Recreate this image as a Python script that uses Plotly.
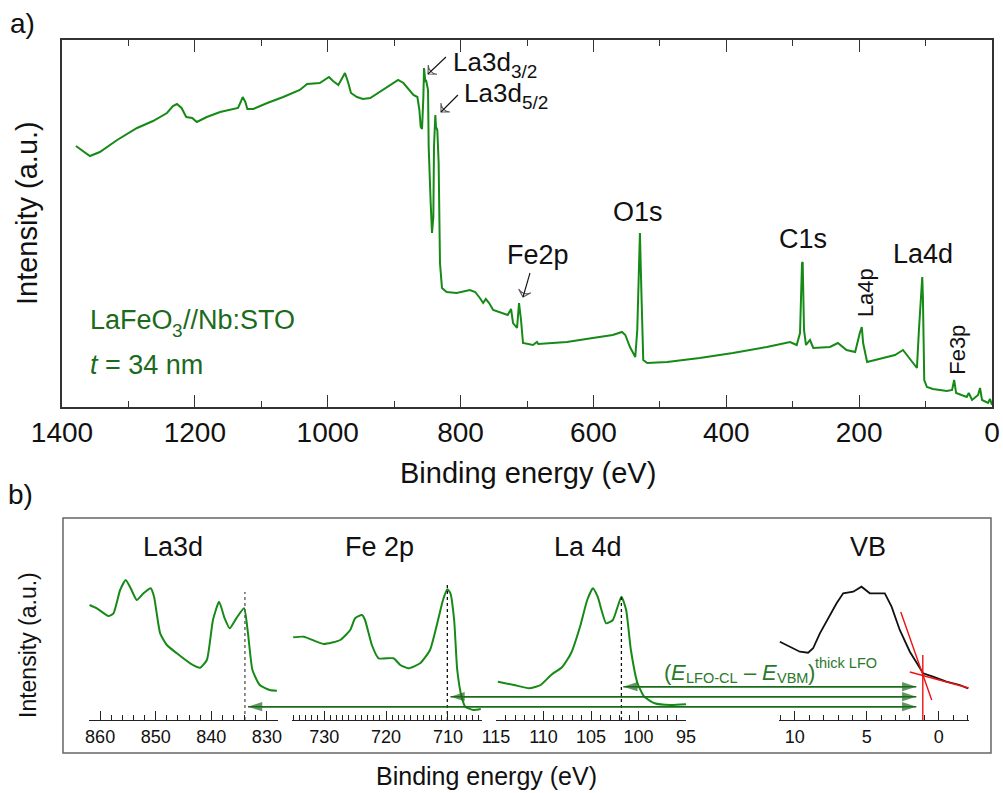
import plotly.graph_objects as go

W, H = 1003, 793
FONT = "Liberation Sans, Arial, sans-serif"
GREEN = "#168a16"
DKGREEN = "#1c6a1c"
TXT = "#111111"

# ---------------- data: survey spectrum (binding energy eV, intensity a.u.) -----------
survey_be = [1379, 1358, 1343, 1317, 1287, 1263, 1242, 1233, 1227, 1220, 1213, 1204, 1197, 1182,
             1162, 1142, 1135, 1131, 1128, 1124, 1121, 1112, 1091, 1067, 1042, 1031, 1012, 998,
             992, 984, 978, 974, 969, 965, 956, 947, 936, 917, 904, 894, 886, 879, 871, 865,
             862, 860, 858, 856, 855, 853, 852, 849, 848, 845, 843, 841, 840, 838, 837, 835,
             833, 831, 828, 821, 806, 786, 778, 771, 766, 762, 757, 751, 741, 729, 724, 721,
             715, 712, 709, 706, 691, 685, 683, 640, 601, 571, 557, 552, 545, 537, 534, 532,
             530, 528, 525, 519, 489, 440, 390, 339, 304, 294, 289, 286, 285, 283, 280, 274,
             269, 244, 232, 219, 206, 199, 196, 194, 188, 164, 146, 134, 123, 113, 110, 105,
             104, 102, 98, 89, 68, 60, 57, 54, 38, 35, 30, 21, 18, 15, 6, 3, 0]
survey_int = [261, 251, 255, 267, 279, 286, 294, 301, 303, 299, 290, 289, 285, 290,
              295, 298, 299, 305, 310, 305, 298, 298, 304, 310, 317, 323, 324, 330,
              326, 322, 329, 334, 324, 314, 310, 308, 309, 317, 322, 327, 324, 318, 312, 310,
              297, 280, 278, 310, 339, 325, 327, 317, 260, 204, 174, 190, 260, 292, 280, 277,
              244, 144, 119, 115, 114, 117, 115, 109, 104, 108, 104, 97, 95, 92, 98, 84,
              79, 104, 87, 64, 62, 65, 63, 65, 69, 72, 75, 72, 60, 50, 77, 137,
              174, 120, 47, 44, 45, 49, 54, 60, 65, 62, 74, 144, 145, 77, 62, 67,
              59, 60, 64, 57, 55, 74, 80, 64, 45, 49, 52, 57, 47, 39, 77, 130,
              110, 27, 20, 18, 16, 17, 27, 14, 10, 14, 7, 12, 19, 7, 4, 8, 2]

# peak-marker arrows on the survey: (head energy, head intensity, tail energy, tail intensity)
survey_arrows = [(849, 333, 822, 350), (829.5, 295, 804, 312), (706, 110, 695.5, 134)]

# ---------------- data: detail spectra ----------------
la3d_be = [861.9, 860.6, 858.5, 857.6, 856.4, 855.4, 854.5, 853.4, 852.2, 850.9, 850.3, 849.2,
           848.0, 846.2, 843.8, 842.0, 840.8, 839.7, 838.6, 837.6, 836.7, 835.5, 834.1, 833.4,
           832.6, 831.3, 829.5, 828.2]
la3d_int = [112, 108.7, 101, 103.7, 127, 137, 128.7, 117, 123.7, 128.7, 120.3, 83.7,
            72, 63.7, 53.7, 49.3, 57, 97, 115.3, 98.7, 88.7, 98.7, 108.7, 83.7,
            47, 32, 27, 26.3]

fe2p_be = [735.0, 733.3, 730.1, 727.4, 725.8, 725.0, 723.9, 723.4, 722.3, 721.2, 718.8, 717.7,
           716.4, 714.5, 712.9, 711.6, 710.8, 710.1, 709.6, 709.0, 708.5, 707.8, 707.2, 705.9, 704.7]
fe2p_int = [79.7, 80.3, 73, 77, 87, 98.7, 102, 97, 72, 58.7, 58.7, 52,
            48.7, 53.7, 67, 97, 117, 127.7, 123.7, 97, 47, 20.3, 10.3, 7, 8]

la4d_be = [114.8, 113.1, 111.5, 110.3, 109.2, 108.0, 107.1, 106.1, 105.4, 104.8, 104.3, 103.4,
           102.7, 101.8, 101.3, 100.8, 100.1, 99.4, 98.3, 96.6, 95.0]
la4d_int = [35.3, 32, 28.7, 32, 42, 50.3, 63.7, 92, 117, 128.7, 120.3, 93.7,
            97, 120.3, 107, 67, 33.7, 20.3, 13.7, 12, 12.7]

vb_be = [11.04, 10.35, 9.65, 9.08, 8.73, 8.26, 7.68, 7.10, 6.64, 5.94, 5.37, 4.79, 3.75,
         3.28, 2.71, 2.01, 1.44, 1.09, 0.40, -0.53, -1.46, -2.03]
vb_int = [75.3, 70.3, 65.3, 64.3, 68.7, 83.7, 98.7, 113.7, 123.7, 125.3, 130.3, 123.7, 123.7,
          110.3, 87, 65.3, 52, 43.7, 40.3, 35.3, 32, 28.7]

# VBM extrapolation lines
tangent_be = [2.64, 0.49]
tangent_int = [105, 17]
base_be = [2.01, -2.08]
base_int = [45, 29]
vbm_be = 1.11
vbm_top = 62

# reference core-level positions (dashed) and their heights
cl_pos = {"la3d": 833.95, "fe2p": 710.1, "la4d": 101.8}
cl_top = {"la3d": 125, "fe2p": 133, "la4d": 122}
arrow_left = {"la3d": 833.4, "fe2p": 709.6, "la4d": 101.6}
arrow_level = {"la3d": 10.3, "fe2p": 20.3, "la4d": 30.3}
arrow_right = 1.56

# ---------------- axes geometry ----------------
def dom_x(a, b):
    return [a / W, b / W]

def dom_y(top, bottom):
    return [1 - bottom / H, 1 - top / H]

top_xdom = dom_x(62, 992)
top_ydom = dom_y(40, 407)
bot_ydom = dom_y(567, 720)
bot_yrng = [-3, 150]

sub = {
    "la3d": dict(ax=2, dom=dom_x(89, 278), rng=[862, 828], dtick=10, minor=2),
    "fe2p": dict(ax=3, dom=dom_x(292, 482), rng=[735.2, 704.5], dtick=10, minor=1),
    "la4d": dict(ax=4, dom=dom_x(496, 686), rng=[115, 95], dtick=5, minor=1),
    "vb": dict(ax=5, dom=dom_x(779, 969), rng=[11.1, -2.1], dtick=5, minor=1),
}

def to_frac(dom, rng, v):
    return dom[0] + (v - rng[0]) / (rng[1] - rng[0]) * (dom[1] - dom[0])

fig = go.Figure()

fig.add_trace(go.Scatter(x=survey_be, y=survey_int, mode="lines",
                         line=dict(color=GREEN, width=2), xaxis="x", yaxis="y",
                         hoverinfo="skip", showlegend=False))

for hx, hy, tx, ty in survey_arrows:
    fig.add_trace(go.Scatter(x=[tx, hx], y=[ty, hy], mode="lines+markers",
                             line=dict(color="#111", width=1.1),
                             marker=dict(symbol=["circle", "arrow-wide-open"], size=[0, 9],
                                         angleref="previous", color="#111",
                                         line=dict(color="#111", width=1.1)),
                             xaxis="x", yaxis="y", showlegend=False, hoverinfo="skip"))

for key, xs, ys in [("la3d", la3d_be, la3d_int), ("fe2p", fe2p_be, fe2p_int),
                    ("la4d", la4d_be, la4d_int)]:
    n = sub[key]["ax"]
    fig.add_trace(go.Scatter(x=xs, y=ys, mode="lines",
                             line=dict(color=GREEN, width=2, shape="spline", smoothing=0.5),
                             xaxis=f"x{n}", yaxis=f"y{n}", showlegend=False))
    fig.add_trace(go.Scatter(x=[cl_pos[key], cl_pos[key]], y=[bot_yrng[0], cl_top[key]],
                             mode="lines",
                             line=dict(color="#555555" if key == "la3d" else "#111111",
                                       width=1.3, dash="dot"),
                             xaxis=f"x{n}", yaxis=f"y{n}", showlegend=False))

fig.add_trace(go.Scatter(x=vb_be, y=vb_int, mode="lines", line=dict(color="#111111", width=1.8),
                         xaxis="x5", yaxis="y5", showlegend=False))
for xs, ys in [(tangent_be, tangent_int), (base_be, base_int),
               ([vbm_be, vbm_be], [bot_yrng[0], vbm_top])]:
    fig.add_trace(go.Scatter(x=xs, y=ys, mode="lines", line=dict(color="#ee1111", width=1.4),
                             xaxis="x5", yaxis="y5", showlegend=False))

# energy-difference double arrows, drawn on a panel-wide overlay axis (x6 in figure fraction)
xr = to_frac(sub["vb"]["dom"], sub["vb"]["rng"], arrow_right)
for key in ["la3d", "fe2p", "la4d"]:
    xl = to_frac(sub[key]["dom"], sub[key]["rng"], arrow_left[key])
    lvl = arrow_level[key]
    for xa, xb in [(xl, xr), (xr, xl)]:
        fig.add_trace(go.Scatter(x=[xa, xb], y=[lvl, lvl], mode="lines+markers",
                                 line=dict(color=DKGREEN, width=1.5),
                                 marker=dict(symbol=["circle", "arrow"], size=[0, 15],
                                             angleref="previous", color=DKGREEN,
                                             line=dict(width=0)),
                                 xaxis="x6", yaxis="y6", showlegend=False, hoverinfo="skip"))

layout = dict(
    width=W, height=H, margin=dict(l=0, r=0, t=0, b=0, autoexpand=False),
    paper_bgcolor="white", plot_bgcolor="rgba(0,0,0,0)",
    font=dict(family=FONT, color=TXT), showlegend=False,
    xaxis=dict(domain=top_xdom, range=[1400, 0], anchor="y", showline=True, linecolor="#333",
               linewidth=1.5, mirror="ticks", ticks="inside", ticklen=12, tickwidth=1.2,
               tickcolor="#333", dtick=200, tick0=0, automargin=False,
               minor=dict(dtick=100, ticklen=6, ticks="inside", tickcolor="#333", tickwidth=1.2,
                          showgrid=False),
               tickfont=dict(size=28, color=TXT, family=FONT), showgrid=False, zeroline=False),
    yaxis=dict(domain=top_ydom, range=[0, 367], anchor="x", showline=True, mirror=True,
               linecolor="#333", linewidth=1.5, showticklabels=False, ticks="",
               showgrid=False, zeroline=False, automargin=False),
    xaxis6=dict(domain=[0, 1], range=[0, 1], anchor="y6", visible=False, automargin=False),
    yaxis6=dict(domain=bot_ydom, range=bot_yrng, anchor="x6", visible=False, automargin=False),
)
for key, s in sub.items():
    n = s["ax"]
    layout[f"xaxis{n}"] = dict(domain=s["dom"], range=s["rng"], anchor=f"y{n}", showline=True,
                               linecolor="#222", linewidth=1.3, ticks="inside", ticklen=9,
                               tickwidth=1.2, tickcolor="#222", dtick=s["dtick"], tick0=0,
                               automargin=False,
                               minor=dict(dtick=s["minor"], ticklen=5, ticks="inside",
                                          tickcolor="#222", tickwidth=1.1, showgrid=False),
                               tickfont=dict(size=18, color=TXT, family=FONT),
                               showgrid=False, zeroline=False)
    layout[f"yaxis{n}"] = dict(domain=bot_ydom, range=bot_yrng, anchor=f"x{n}", visible=False,
                               automargin=False)
fig.update_layout(**layout)

# bottom panel box
fig.add_shape(type="rect", xref="paper", yref="paper", x0=63 / W, x1=991 / W,
              y0=1 - 753 / H, y1=1 - 518 / H, line=dict(color="#666", width=1.5),
              fillcolor="rgba(0,0,0,0)", layer="below")

ann = []

def txt(x, y, text, size, xref="paper", yref="paper", xanchor="center", yanchor="middle",
        color=TXT, angle=0, xshift=0, yshift=0):
    ann.append(dict(x=x, y=y, xref=xref, yref=yref, text=text, showarrow=False,
                    xanchor=xanchor, yanchor=yanchor, textangle=angle,
                    xshift=xshift, yshift=yshift,
                    font=dict(size=size, color=color, family=FONT)))

# Arial / Liberation Sans advance widths (per 1000 em) for composing sub/superscripts
ADV = {" ": 278, "(": 333, ")": 333, "E": 667, "L": 556, "F": 611, "O": 778, "-": 333,
       "C": 722, "V": 667, "B": 667, "M": 833, "t": 278, "h": 556, "i": 222, "c": 500,
       "k": 500, "\u2013": 556, "a": 556, "d": 556, "3": 556, "/": 278, "2": 556, "5": 556,
       "e": 556, "N": 722, "b": 556, ":": 278, "S": 667, "T": 611}

def width(s, size):
    return sum(ADV.get(ch, 556) for ch in s) * size / 1000.0

def compose(x, y, pieces, xref="paper", yref="paper", color=TXT):
    off = 0.0
    for text, size, dy in pieces:
        shown = text.strip()
        lead = width(text[:len(text) - len(text.lstrip())], size)
        txt(x, y, shown, size, xref, yref, xanchor="left", color=color,
            xshift=off + lead, yshift=dy)
        off += width(text.replace("<i>", "").replace("</i>", ""), size)

def pp(xp, yp):
    return xp / W, 1 - yp / H

# panel labels / titles
txt(*pp(22, 23), "a)", 28)
txt(*pp(20, 495), "b)", 28)
txt(*pp(528, 473), "Binding energy (eV)", 29)
txt(*pp(27, 213), "Intensity (a.u.)", 29, angle=-90)
txt(*pp(486, 776), "Binding energy (eV)", 25)
txt(*pp(28, 645), "Intensity (a.u.)", 23, angle=-90)

# survey peak labels (data coords)
compose(814, 345, [("La3d", 26, 0), ("3/2", 19, -10)], "x", "y")
compose(798, 314, [("La3d", 26, 0), ("5/2", 19, -10)], "x", "y")
txt(683, 152, "Fe2p", 27, "x", "y")
txt(533, 195, "O1s", 27, "x", "y")
txt(284, 168, "C1s", 27, "x", "y")
txt(191, 114, "La4p", 22, "x", "y", angle=-90)
txt(104, 153, "La4d", 27, "x", "y")
txt(53, 57, "Fe3p", 22, "x", "y", angle=-90)
compose(1361, 87, [("LaFeO", 27, 0), ("3", 19, -10), ("//Nb:STO", 27, 0)], "x", "y",
        color=DKGREEN)
compose(1361, 42, [("<i>t</i>", 27, 0), (" = 34 nm", 27, 0)], "x", "y", color=DKGREEN)

# bottom panel titles
txt(*pp(173, 547), "La3d", 27)
txt(*pp(379, 547), "Fe 2p", 27)
txt(*pp(588, 547), "La 4d", 27)
txt(*pp(868, 547), "VB", 27)

compose(*pp(662, 672), [("(", 22, 0), ("<i>E</i>", 22, 0), ("LFO-CL", 14.5, -6),
                        (" \u2013 ", 22, 0), ("<i>E</i>", 22, 0), ("VBM", 14.5, -6),
                        (")", 22, 0), ("thick LFO", 14.5, 9)], color="#2a7a2a")

fig.update_layout(annotations=ann)
fig.write_html("out.html")
